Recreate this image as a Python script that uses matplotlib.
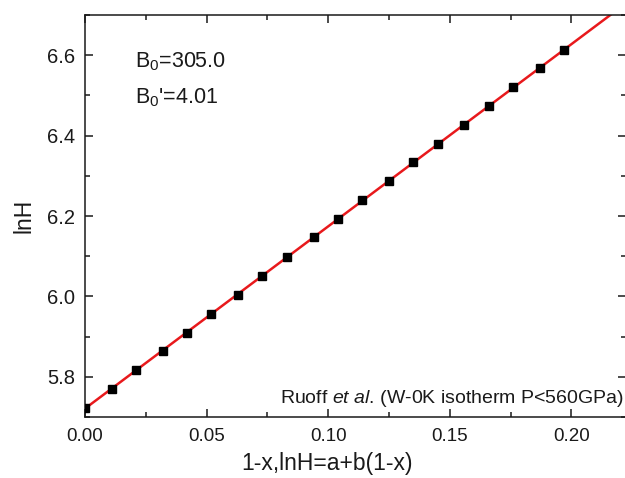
import matplotlib.pyplot as plt
import numpy as np
from matplotlib.ticker import MultipleLocator

plt.rcParams['font.family'] = ['Liberation Sans', 'DejaVu Sans']
plt.rcParams['mathtext.fontset'] = 'custom'
plt.rcParams['mathtext.rm'] = 'Liberation Sans'
plt.rcParams['mathtext.it'] = 'Liberation Sans:italic'

# 1-x values and lnH
one_minus_x = [0.000, 0.011, 0.021, 0.032, 0.042, 0.052, 0.063, 0.073, 0.083, 0.094,
               0.104, 0.114, 0.125, 0.135, 0.145, 0.156, 0.166, 0.176, 0.187, 0.197]
lnH = [5.723, 5.770, 5.817, 5.865, 5.909, 5.957, 6.004, 6.051, 6.098, 6.148,
       6.193, 6.240, 6.287, 6.334, 6.379, 6.426, 6.473, 6.520, 6.568, 6.612]

b, a = np.polyfit(one_minus_x, lnH, 1)

fig = plt.figure(figsize=(6.25, 4.78), dpi=100)
ax = fig.add_axes([0.136, 0.1276, 0.866, 0.841])

xfit = np.linspace(0, 0.23, 50)
ax.plot(xfit, a + b * xfit, color='#e8191c', lw=1.8, zorder=2)
ax.plot(one_minus_x, lnH, 's', color='black', ms=6.3, zorder=3)

ax.set_xlim(0, 0.2226)
ax.set_ylim(5.70, 6.70)
ax.xaxis.set_major_locator(MultipleLocator(0.05))
ax.xaxis.set_minor_locator(MultipleLocator(0.025))
ax.yaxis.set_major_locator(MultipleLocator(0.2))
ax.yaxis.set_minor_locator(MultipleLocator(0.1))
ax.xaxis.set_major_formatter(plt.FuncFormatter(lambda v, p: '%.2f' % v))
ax.yaxis.set_major_formatter(plt.FuncFormatter(lambda v, p: '%.1f' % v))

ax.tick_params(which='both', direction='in', top=True, right=True, width=1.1,
               color='#1a1a1a', labelcolor='#1a1a1a')
ax.tick_params(axis='x', labelsize=13.5, pad=8)
ax.tick_params(axis='y', labelsize=14.5, pad=7)
ax.tick_params(which='major', length=6)
ax.tick_params(which='minor', length=3.5)
for s in ax.spines.values():
    s.set_linewidth(1.1)
    s.set_color('#1a1a1a')

ax.set_xlabel('1-x,lnH=a+b(1-x)', fontsize=16.5, color='#1a1a1a')
ax.set_ylabel('lnH', fontsize=16.5, color='#1a1a1a')
ax.xaxis.set_label_coords(0.447, -0.087)
ax.yaxis.set_label_coords(-0.091, 0.5)

ax.text(0.092, 0.87, r'B$_0$=305.0', transform=ax.transAxes, fontsize=15.5, color='#1a1a1a')
ax.text(0.092, 0.78, r"B$_0$'=4.01", transform=ax.transAxes, fontsize=15.5, color='#1a1a1a')
ax.text(0.995, 0.035, r'Ruoff $\mathit{et\ al}$. (W-0K isotherm P<560GPa)', transform=ax.transAxes,
        fontsize=14, ha='right', color='#1a1a1a')

fig.savefig('out.png', dpi=100)
